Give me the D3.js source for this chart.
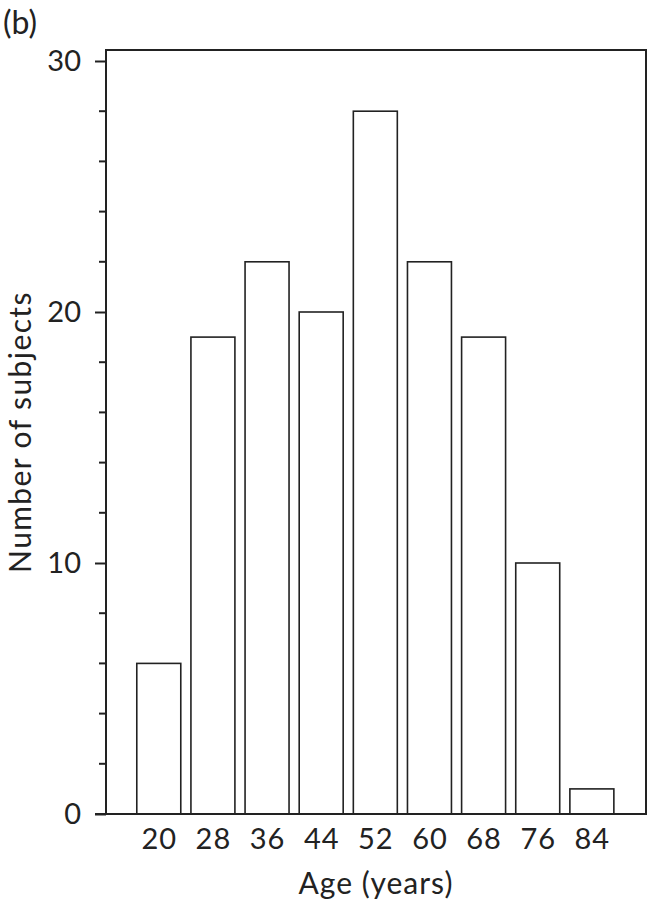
<!DOCTYPE html>
<html><head><meta charset="utf-8">
<script src="https://cdn.jsdelivr.net/npm/d3@7"></script>
<style>body{margin:0;background:#fff}svg{display:block}text{font-family:Lato,"Open Sans",sans-serif;fill:#222}</style>
</head><body>
<svg id="c" width="650" height="904"></svg>
<script>
const ages = [20, 28, 36, 44, 52, 60, 68, 76, 84];
const counts = [6, 19, 22, 20, 28, 22, 19, 10, 1];
const yTicks = [0, 10, 20, 30];
const panelLabel = "(b)";
const xTitle = "Age (years)";
const yTitle = "Number of subjects";

const svg = d3.select("#c");
const L = 106, R = 646, T = 50, B = 814;
const x = d3.scaleLinear().domain([12.2, 92]).range([L, R]);
const y = d3.scaleLinear().domain([0, 30]).range([B, 61]);
const barW = 6.5;

// bars
svg.append("g").selectAll("rect").data(ages).join("rect")
  .attr("x", d => x(d - barW/2)).attr("width", x(barW) - x(0))
  .attr("y", (d,i) => y(counts[i])).attr("height", (d,i) => B - y(counts[i]))
  .attr("fill", "#fff").attr("stroke", "#222").attr("stroke-width", 1.6);

// frame
svg.append("path").attr("d", `M${L},${B}V${T}H${R}V${B}H${L - 11}`)
  .attr("fill", "none").attr("stroke", "#222").attr("stroke-width", 2);

// y axis ticks
const yAxis = d3.axisLeft(y).tickValues(yTicks).tickSize(11).tickPadding(14).tickFormat(d3.format("d"));
const gy = svg.append("g").attr("transform", `translate(${L},0)`).call(yAxis);
gy.select(".domain").remove();
gy.selectAll("line").attr("stroke", "#222").attr("stroke-width", 2);
gy.selectAll("text").attr("font-size", 29).style("font-family", "Lato, sans-serif").attr("fill", "#222");
const minor = d3.range(0, 31, 2).filter(v => v % 10 !== 0);
svg.append("g").selectAll("line").data(minor).join("line")
  .attr("x1", L - 7).attr("x2", L).attr("y1", d => y(d)).attr("y2", d => y(d))
  .attr("stroke", "#222").attr("stroke-width", 2);

// x axis labels
const xAxis = d3.axisBottom(x).tickValues(ages).tickSize(0).tickPadding(14).tickFormat(d3.format("d"));
const gx = svg.append("g").attr("transform", `translate(0,${B})`).call(xAxis);
gx.select(".domain").remove();
gx.selectAll("text").attr("font-size", 29).style("font-family", "Lato, sans-serif").attr("fill", "#222")
  .attr("letter-spacing", 1);

// titles
svg.append("text").attr("x", (L + R)/2).attr("y", 894).attr("text-anchor", "middle")
  .attr("font-size", 30).attr("letter-spacing", 1).text(xTitle);
svg.append("text").attr("transform", `translate(31,${(T + B)/2}) rotate(-90)`).attr("text-anchor", "middle")
  .attr("font-size", 30).attr("letter-spacing", 1.4).text(yTitle);
svg.append("text").attr("x", 3).attr("y", 34).attr("font-size", 32).text(panelLabel);
</script>
</body></html>
